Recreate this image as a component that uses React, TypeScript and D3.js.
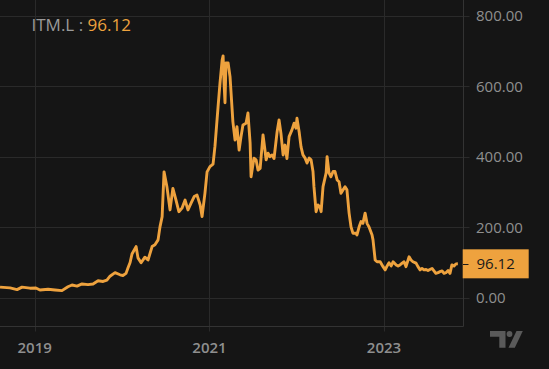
import React from 'react';
import * as d3 from 'd3';

const dates = [
  '2018-08-09', '2018-09-20', '2018-10-19', '2018-11-09', '2018-12-12', '2019-01-06', '2019-01-23', '2019-02-26',
  '2019-03-27', '2019-04-25', '2019-05-20', '2019-06-06', '2019-06-27', '2019-07-18', '2019-08-12', '2019-09-02',
  '2019-09-23', '2019-10-14', '2019-10-30', '2019-11-12', '2019-12-03', '2019-12-24', '2020-01-05', '2020-01-18',
  '2020-01-26', '2020-02-04', '2020-02-12', '2020-02-29', '2020-03-08', '2020-03-21', '2020-04-06', '2020-04-19',
  '2020-05-06', '2020-05-18', '2020-05-31', '2020-06-08', '2020-06-17', '2020-06-25', '2020-07-07', '2020-07-20',
  '2020-08-01', '2020-08-14', '2020-08-26', '2020-09-08', '2020-09-21', '2020-10-03', '2020-10-16', '2020-10-29',
  '2020-11-10', '2020-11-23', '2020-12-01', '2020-12-13', '2020-12-22', '2021-01-03', '2021-01-16', '2021-01-24',
  '2021-02-06', '2021-02-14', '2021-02-23', '2021-02-27', '2021-03-03', '2021-03-07', '2021-03-11', '2021-03-20',
  '2021-03-28', '2021-04-05', '2021-04-09', '2021-04-18', '2021-04-26', '2021-05-05', '2021-05-13', '2021-05-21',
  '2021-06-03', '2021-06-11', '2021-06-20', '2021-06-24', '2021-07-06', '2021-07-15', '2021-07-23', '2021-08-01',
  '2021-08-13', '2021-08-21', '2021-08-26', '2021-09-03', '2021-09-11', '2021-09-20', '2021-09-28', '2021-10-11',
  '2021-10-19', '2021-10-27', '2021-11-05', '2021-11-13', '2021-11-21', '2021-11-30', '2021-12-12', '2021-12-21',
  '2021-12-29', '2022-01-02', '2022-01-11', '2022-01-19', '2022-01-27', '2022-02-05', '2022-02-13', '2022-02-22',
  '2022-03-02', '2022-03-10', '2022-03-14', '2022-03-23', '2022-03-31', '2022-04-08', '2022-04-13', '2022-04-21',
  '2022-05-04', '2022-05-08', '2022-05-16', '2022-05-24', '2022-06-02', '2022-06-10', '2022-06-19', '2022-06-27',
  '2022-07-05', '2022-07-14', '2022-07-22', '2022-07-30', '2022-08-08', '2022-08-16', '2022-08-24', '2022-09-06',
  '2022-09-10', '2022-09-19', '2022-09-27', '2022-10-05', '2022-10-14', '2022-10-22', '2022-10-30', '2022-11-12',
  '2022-11-16', '2022-11-25', '2022-12-03', '2022-12-16', '2022-12-28', '2023-01-06', '2023-01-14', '2023-01-22',
  '2023-01-31', '2023-02-08', '2023-02-21', '2023-03-01', '2023-03-09', '2023-03-18', '2023-03-26', '2023-04-03',
  '2023-04-16', '2023-04-24', '2023-05-02', '2023-05-15', '2023-05-23', '2023-06-01', '2023-06-09', '2023-06-17',
  '2023-06-26', '2023-07-04', '2023-07-12', '2023-07-21', '2023-07-29', '2023-08-06', '2023-08-15', '2023-08-23',
  '2023-09-01', '2023-09-09', '2023-09-17', '2023-09-26', '2023-10-04', '2023-10-12', '2023-10-21', '2023-10-29',
  '2023-11-06',
];

const prices = [
  30, 28, 23, 30, 27, 27.5, 22, 24,
  22, 20, 31, 36, 33, 39, 37, 39,
  48, 46, 50, 61, 71, 65, 63, 69,
  84, 100, 124, 145, 113, 99, 115, 107,
  145, 150, 164, 201, 230, 357, 315, 249,
  310, 277, 244, 254, 277, 249, 268, 287,
  291, 263, 230, 296, 357, 372, 379, 430,
  542, 609, 674, 686, 609, 553, 666, 666,
  627, 542, 499, 447, 485, 419, 457, 490,
  495, 524, 439, 343, 396, 391, 362, 367,
  462, 419, 391, 410, 400, 405, 395, 471,
  504, 466, 405, 433, 395, 457, 476, 495,
  481, 509, 471, 428, 405, 396, 382, 396,
  391, 358, 315, 244, 263, 258, 244, 315,
  354, 400, 354, 343, 358, 358, 334, 329,
  296, 306, 315, 306, 240, 201, 183, 183,
  178, 201, 216, 211, 240, 211, 201, 178,
  164, 107, 102, 102, 88, 79, 90, 99,
  90, 102, 93, 90, 93, 98, 102, 88,
  116, 107, 102, 98, 88, 79, 83, 79,
  80, 77, 80, 83, 76, 69, 71, 74,
  76, 69, 71, 77, 69, 93, 90, 96,
  96.12,
];

const yTicks = [0, 200, 400, 600, 800];
const xTicks = ['2019-01-01', '2021-01-01', '2023-01-01'];

const symbol = 'ITM.L';
const lastPrice = 96.12;

const W = 549;
const H = 369;
const plotRight = 463.5;
const plotBottom = 326.5;
const orange = '#eea23e';
const grid = '#2a2a2a';
const textGrey = '#8f8f8f';
const font = '"Open Sans", "Noto Sans", sans-serif';

export default function App() {
  const parse = d3.utcParse('%Y-%m-%d');
  const data = dates.map((d, i) => ({ date: parse(d) as Date, value: prices[i] }));

  const x = d3
    .scaleUtc()
    .domain([parse('2019-01-01') as Date, parse('2023-01-01') as Date])
    .range([34.7, 384]);
  const y = d3.scaleLinear().domain([0, 800]).range([297.7, 15.7]);

  const line = d3
    .line<{ date: Date; value: number }>()
    .x((d) => x(d.date))
    .y((d) => y(d.value))
    .curve(d3.curveLinear);

  const ly = y(lastPrice);

  return (
    <svg
      width={W}
      height={H}
      style={{ position: 'fixed', left: 0, top: 0, background: '#151515', fontFamily: font }}
    >
      <rect x={0} y={0} width={W} height={H} fill="#151515" />
      {/* grid */}
      {yTicks.map((t) => (
        <line key={'gy' + t} x1={0} x2={plotRight + 6} y1={Math.round(y(t)) + 0.5} y2={Math.round(y(t)) + 0.5} stroke={grid} />
      ))}
      {xTicks.map((t) => {
        const px = Math.round(x(parse(t) as Date)) + 0.5;
        return <line key={'gx' + t} x1={px} x2={px} y1={0} y2={plotBottom + 5} stroke={grid} />;
      })}
      {/* frame */}
      <line x1={plotRight} x2={plotRight} y1={0} y2={plotBottom} stroke="#333" />
      <line x1={0} x2={plotRight} y1={plotBottom} y2={plotBottom} stroke="#333" />

      <path d={line(data) ?? ''} fill="none" stroke={orange} strokeWidth={2.9} strokeLinejoin="round" />

      {/* y labels */}
      {yTicks.map((t) => (
        <text key={'ly' + t} x={476} y={y(t) + 5.5} fill={textGrey} fontSize={15}>
          {t.toFixed(2)}
        </text>
      ))}
      {/* x labels */}
      {xTicks.map((t) => (
        <text
          key={'lx' + t}
          x={x(parse(t) as Date)}
          y={353.3}
          fill={textGrey}
          fontSize={15}
          fontWeight={600}
          textAnchor="middle"
        >
          {t.slice(0, 4)}
        </text>
      ))}

      {/* last price label */}
      <rect x={462.7} y={ly - 14.5} width={66} height={29} fill={orange} />
      <line x1={463} x2={468.5} y1={Math.round(ly) + 0.5} y2={Math.round(ly) + 0.5} stroke="#1a1a1a" />
      <text x={476.5} y={ly + 5.5} fill="#1a1a1a" fontSize={15}>
        {lastPrice.toFixed(2)}
      </text>

      {/* legend */}
      <text x={31.5} y={30.7} fontSize={17}>
        <tspan fill="#9a9a9a">{symbol} : </tspan>
        <tspan fill={orange}>{lastPrice.toFixed(2)}</tspan>
      </text>

      {/* logo */}
      <g fill="#5a5a5a">
        <path d="M490,331 H505.5 V347.8 H499.3 V336.8 H490 Z" />
        <circle cx={509.5} cy={334} r={2.9} />
        <path d="M516.5,331 H522.8 L514.8,347.8 H508.5 Z" />
      </g>
    </svg>
  );
}
